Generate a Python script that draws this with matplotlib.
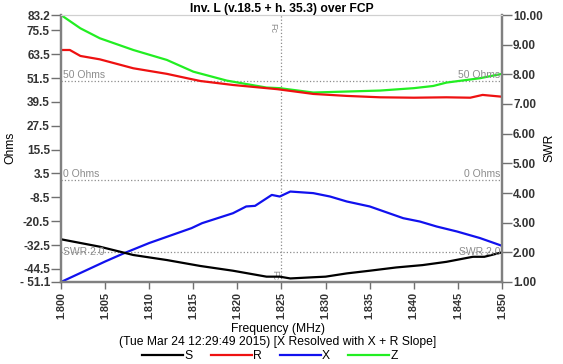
import matplotlib.pyplot as plt

plt.rcParams['font.family'] = ['Liberation Sans', 'DejaVu Sans']

# readings
freq_z = [1.800, 1.8022, 1.8044, 1.8082, 1.812, 1.815, 1.8188, 1.8233, 1.8248, 1.8286,
          1.8324, 1.8362, 1.840, 1.8422, 1.8437, 1.8475, 1.850]
z_ohms = [83.2, 76.5, 71.5, 65.6, 60.6, 54.7, 50.2, 46.7, 46.4, 44.2,
          44.7, 45.2, 46.4, 47.5, 49.2, 51.4, 53.6]

freq_r = [1.800, 1.801, 1.8022, 1.8044, 1.8082, 1.812, 1.8143, 1.8158, 1.8195, 1.8245,
          1.8286, 1.8324, 1.8362, 1.840, 1.8437, 1.8464, 1.8478, 1.850]
r_ohms = [65.6, 65.6, 62.6, 60.9, 56.4, 53.6, 51.4, 50.0, 48.0, 45.9,
          43.5, 42.5, 41.8, 41.6, 41.8, 41.6, 43.0, 42.1]

freq_x = [1.800, 1.805, 1.807, 1.810, 1.8148, 1.816, 1.8195, 1.821, 1.822, 1.8239,
          1.8248, 1.826, 1.8286, 1.8305, 1.8324, 1.835, 1.8388, 1.8407, 1.8426, 1.8449,
          1.8475, 1.850]
x_ohms = [-51.1, -40.8, -36.9, -31.5, -24.0, -21.5, -16.5, -13.1, -12.8, -7.3,
          -8.1, -5.6, -6.4, -8.1, -10.6, -13.1, -19.0, -20.7, -23.2, -25.7,
          -29.0, -32.9]

freq_s = [1.800, 1.8044, 1.8082, 1.812, 1.8158, 1.8195, 1.8233, 1.8248, 1.826, 1.8286,
          1.830, 1.8324, 1.835, 1.838, 1.841, 1.8437, 1.8467, 1.848, 1.850]
swr = [2.44, 2.19, 1.91, 1.74, 1.54, 1.38, 1.18, 1.18, 1.12, 1.16,
       1.18, 1.29, 1.38, 1.49, 1.57, 1.68, 1.85, 1.85, 2.0]

ohm_ticks = [83.2, 75.5, 63.5, 51.5, 39.5, 27.5, 15.5, 3.5, -8.5, -20.5, -32.5, -44.5, -51.1]
ohm_labels = ['83.2', '75.5', '63.5', '51.5', '39.5', '27.5', '15.5', '3.5', '-8.5',
              '-20.5', '-32.5', '-44.5', '- 51.1']
swr_ticks = [1, 2, 3, 4, 5, 6, 7, 8, 9, 10]
freq_ticks = [1.800, 1.805, 1.810, 1.815, 1.820, 1.825, 1.830, 1.835, 1.840, 1.845, 1.850]
fc = 1.825

fig = plt.figure(figsize=(5.63, 3.64), dpi=100)
ax = fig.add_axes([61 / 563, 1 - 282 / 364, 441 / 563, 267 / 364])
ax2 = ax.twinx()

gray = '#8c8c8c'
ax.set_xlim(1.800, 1.850)
ax.set_ylim(-51.1, 83.2)
ax2.set_ylim(1, 10)

# reference lines
ax.axhline(50, color=gray, ls=':', lw=0.9)
ax.axhline(0, color=gray, ls=':', lw=0.9)
ax2.axhline(2, color=gray, ls=':', lw=0.9)
ax.axvline(fc, color=gray, ls=':', lw=0.9)

lz, = ax.plot(freq_z, z_ohms, color='#22ee22', lw=1.6)
lr, = ax.plot(freq_r, r_ohms, color='#ee1111', lw=1.6)
lx, = ax.plot(freq_x, x_ohms, color='#1111ee', lw=1.6)
ls, = ax2.plot(freq_s, swr, color='black', lw=1.6)

tkw = dict(fontsize=7.5, color=gray)
ax.text(1.8002, 50.5, '50 Ohms', ha='left', va='bottom', **tkw)
ax.text(1.8498, 50.5, '50 Ohms', ha='right', va='bottom', **tkw)
ax.text(1.8002, 0.5, '0 Ohms', ha='left', va='bottom', **tkw)
ax.text(1.8498, 0.5, '0 Ohms', ha='right', va='bottom', **tkw)
ax2.text(1.8002, 2.0, 'SWR 2.0', ha='left', va='center', **tkw)
ax2.text(1.8498, 2.0, 'SWR 2.0', ha='right', va='center', **tkw)
ax.text(fc - 0.0005, 79, 'Fc', rotation=270, ha='right', va='top', fontsize=6.5, color=gray)
ax.text(fc - 0.0003, -45, 'Fc', rotation=270, ha='right', va='top', fontsize=6.5, color=gray)

tick_font = dict(fontsize=8.5, fontweight='bold', color='#333333')
ax.set_xticks(freq_ticks)
ax.set_xticklabels(['%.3f' % f for f in freq_ticks], rotation=90,
                   fontsize=7.8, fontweight='bold', color='#333333')
ax.set_yticks(ohm_ticks)
ax.set_yticklabels(ohm_labels, **tick_font)
ax2.set_yticks(swr_ticks)
ax2.set_yticklabels(['%.2f' % v for v in swr_ticks], **tick_font)

for a in (ax, ax2):
    a.tick_params(direction='out', length=7, width=1, color='#707070', pad=1)
    a.spines['top'].set_color('#d0d0d0')
    for s in ('left', 'right', 'bottom'):
        a.spines[s].set_color('#808080')
        a.spines[s].set_linewidth(1.6)
ax.tick_params(axis='x', length=5, pad=2)

fig.text(10 / 563, 1 - 148 / 364, 'Ohms', rotation=90, ha='center', va='center', fontsize=8.7)
fig.text(549 / 563, 1 - 148 / 364, 'SWR', rotation=90, ha='center', va='center', fontsize=8.7)
ax.set_title('Inv. L (v.18.5 + h. 35.3) over FCP', fontsize=8.7, fontweight='bold', pad=2)

fig.text(278 / 563, 1 - 329 / 364, 'Frequency (MHz)', ha='center', va='center', fontsize=8.7)
fig.text(278 / 563, 1 - 342 / 364, '(Tue Mar 24 12:29:49 2015) [X Resolved with X + R Slope]',
         ha='center', va='center', fontsize=8.7)
fig.legend([ls, lr, lx, lz], ['S', 'R', 'X', 'Z'], loc='center', bbox_to_anchor=(270 / 563, 1 - 356 / 364),
           ncol=4, frameon=False, fontsize=8.7, handlelength=3.4, handletextpad=0.1, columnspacing=1.5,
           borderpad=0)

fig.savefig('out.png', dpi=100)
